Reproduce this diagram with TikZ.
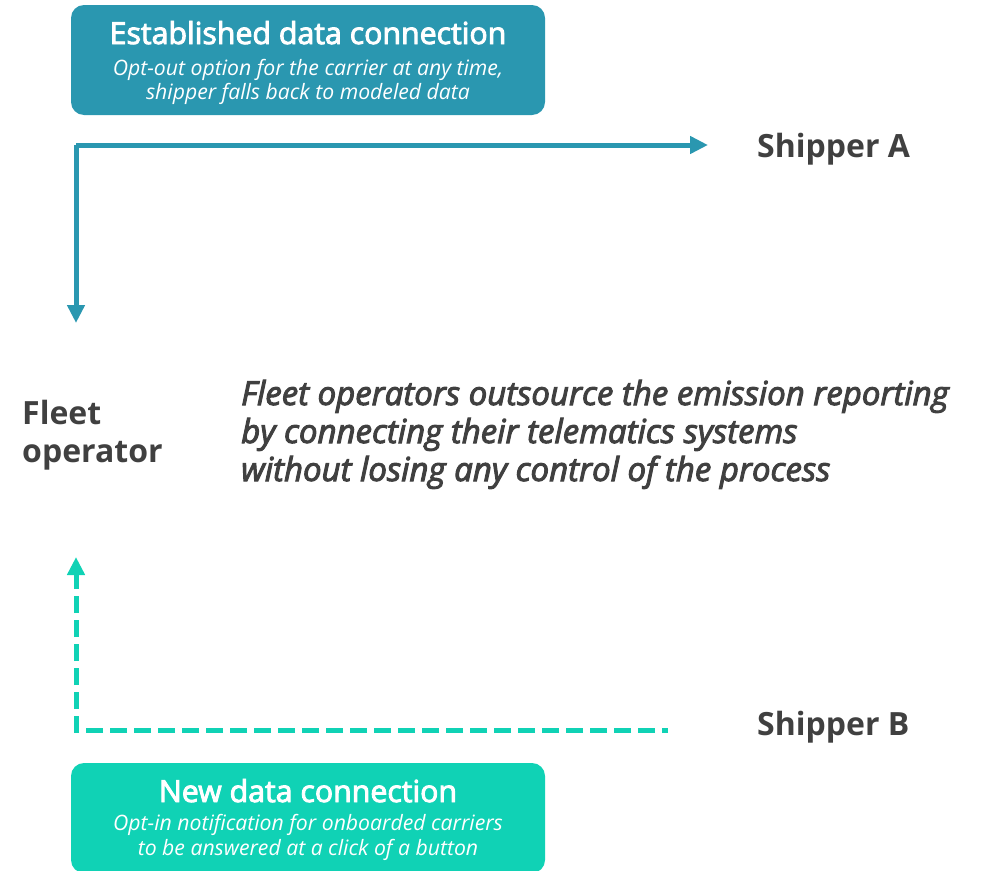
\documentclass[tikz,border=0pt]{standalone}
\usepackage{fontspec}
\setmainfont{Open Sans}
\newfontfamily\osemi{Open Sans}[FakeBold=3]
\usetikzlibrary{arrows.meta}
\definecolor{tealA}{HTML}{2A97B0}
\definecolor{tealB}{HTML}{10D2B5}
\definecolor{txt}{HTML}{404040}
\begin{document}
\begin{tikzpicture}[x=1pt,y=-1pt,
  boxshape/.style={rounded corners=13pt, inner sep=0pt, minimum width=474pt, minimum height=110pt},
  boxtitle/.style={text=white, anchor=base, inner sep=0pt, font=\fontsize{30.3}{34}\selectfont\osemi},
  boxsub/.style={text=white, anchor=base, inner sep=0pt, font=\fontsize{21.2}{25}\selectfont\itshape},
  label/.style={text=txt, anchor=base west, inner sep=0pt, font=\fontsize{32}{38}\selectfont\bfseries},
  midtext/.style={text=txt, anchor=base west, inner sep=0pt, font=\fontsize{33}{38}\selectfont\osemi\itshape},
  arrowA/.style={draw=tealA, line width=5pt, line join=miter, -{Triangle[length=18pt,width=17pt]}},
  arrowB/.style={draw=tealB, line width=5pt, line join=miter, dash pattern=on 17pt off 7pt, dash phase=11pt, -{Triangle[length=18pt,width=17pt]}}
]
\useasboundingbox (0,0) rectangle (984,870);
% top box
\node[boxshape, fill=tealA] (est) at (308,60) {};
\node[boxtitle] (estT) at (308,44) {Established data connection};
\node[boxsub] (estS1) at (308,75) {Opt-out option for the carrier at any time,};
\node[boxsub] (estS2) at (308,99) {shipper falls back to modeled data};
% bottom box
\node[boxshape, fill=tealB] (new) at (308,818) {};
\node[boxtitle] (newT) at (308,802) {New data connection};
\node[boxsub] (newS1) at (308,830) {Opt-in notification for onboarded carriers};
\node[boxsub] (newS2) at (308,855) {to be answered at a click of a button};
% labels
\node[label] (shipA) at (757,157) {Shipper A};
\node[label] (shipB) at (757,735) {Shipper B};
\node[label] (fleet1) at (22,424) {Fleet};
\node[label] (fleet2) at (22,462) {operator};
\node[midtext] (m1) at (241,405) {Fleet operators outsource the emission reporting};
\node[midtext] (m2) at (241,443) {by connecting their telematics systems};
\node[midtext] (m3) at (241,481) {without losing any control of the process};
% connectors
\coordinate (cA) at (76,145);
\coordinate (tA) at (708,145);
\coordinate (tF1) at (76,323);
\draw[arrowA] (cA) -- (tA);
\draw[arrowA] (cA) -- (tF1);
\coordinate (eB) at (668,730);
\coordinate (cB) at (76,730);
\coordinate (tF2) at (76,557);
\draw[arrowB] (eB) -- (cB) -- (tF2);
\end{tikzpicture}
\end{document}
